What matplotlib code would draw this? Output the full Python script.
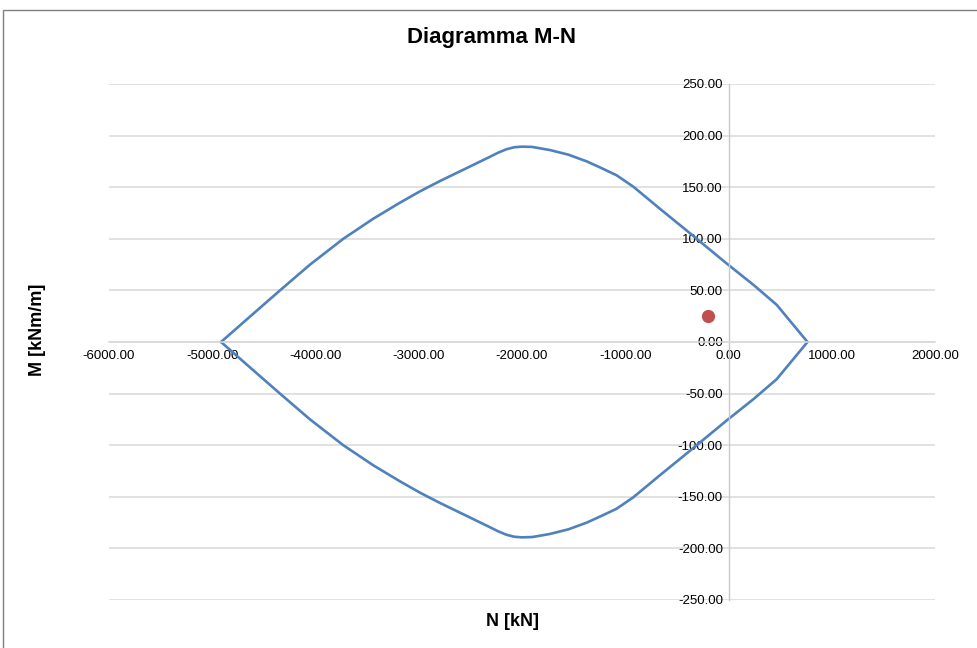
import matplotlib as mpl
mpl.use('Agg')
import matplotlib.pyplot as plt
from matplotlib.patches import Rectangle
from matplotlib.ticker import FormatStrFormatter

plt.rcParams['font.family'] = ['Liberation Sans', 'DejaVu Sans']

# upper branch of the M-N domain (N in kN, M in kNm/m)
n_upper = [-4915, -4630, -4344, -4053, -3731, -3440, -3182, -2988, -2794, -2536,
           -2310, -2230, -2150, -2075, -2003, -1900, -1729, -1550, -1373, -1230,
           -1083, -922, -663, -405, -17, 240, 467, 765]
m_upper = [0, 25, 50, 75, 100, 119.5, 135, 146, 156, 168.5,
           179.5, 183.5, 186.8, 188.7, 189.3, 189, 186, 181.5, 175, 168.5,
           161.5, 150.5, 129, 108, 76, 55.5, 36, 0]

# lower branch
n_lower = [-4915, -4630, -4344, -4053, -3731, -3440, -3182, -2988, -2794, -2536,
           -2310, -2230, -2150, -2075, -2003, -1900, -1729, -1550, -1373, -1230,
           -1083, -922, -663, -405, -17, 240, 467, 765]
m_lower = [0, -25, -50, -75, -100, -119.5, -135, -146, -156, -168.5,
           -179.5, -183.5, -186.8, -188.7, -189.3, -189, -186, -181.5, -175, -168.5,
           -161.5, -150.5, -129, -108, -76, -55.5, -36, 0]

# design point
n_point = [-200]
m_point = [25]

x_ticks = [-6000, -5000, -4000, -3000, -2000, -1000, 0, 1000, 2000]
y_ticks = [-250, -200, -150, -100, -50, 0, 50, 100, 150, 200, 250]

fig = plt.figure(figsize=(9.77, 6.48), dpi=100)
ax = fig.add_axes([109/977, 1-600/648, (935-109)/977, (600-84)/648])

fig.patches.append(Rectangle((3/977, -0.1), 1.2, 0.1 + (1 - 10.5/648),
                             transform=fig.transFigure, fill=False,
                             edgecolor='#7f7f7f', linewidth=1.0))

ax.plot(n_upper, m_upper, color='#4F81BD', linewidth=1.9,
        solid_joinstyle='round', solid_capstyle='round')
ax.plot(n_lower, m_lower, color='#4F81BD', linewidth=1.9,
        solid_joinstyle='round', solid_capstyle='round')
ax.plot(n_point, m_point, 'o', color='#C0504D', markersize=8.5, zorder=5)

ax.set_xlim(-6000, 2000)
ax.set_ylim(-250, 250)
ax.set_xticks(x_ticks)
ax.set_yticks(y_ticks)
ax.xaxis.set_major_formatter(FormatStrFormatter('%.2f'))
ax.yaxis.set_major_formatter(FormatStrFormatter('%.2f'))

ax.grid(axis='y', color='#d9d9d9', linewidth=1.1)
ax.set_axisbelow(True)
for s in ['top', 'right']:
    ax.spines[s].set_visible(False)
ax.spines['left'].set_position(('data', 0))
ax.spines['bottom'].set_position(('data', 0))
ax.spines['left'].set_color('#c8c8c8')
ax.spines['bottom'].set_color('#d9d9d9')
ax.spines['left'].set_linewidth(1.0)
ax.spines['bottom'].set_linewidth(1.1)
ax.tick_params(axis='both', length=0, labelsize=9.5, colors='black')
ax.tick_params(axis='x', pad=6)
ax.tick_params(axis='y', pad=4)

fig.text(492/977, 1-37/648, 'Diagramma M-N', ha='center', va='center',
         fontsize=16, fontweight='bold')
fig.text(512/977, 1-622/648, 'N [kN]', ha='center', va='center',
         fontsize=13, fontweight='bold')
fig.text(38/977, 1-330/648, 'M [kNm/m]', ha='center', va='center',
         fontsize=13, fontweight='bold', rotation=90)

plt.savefig('out.png', dpi=100)
plt.close()
